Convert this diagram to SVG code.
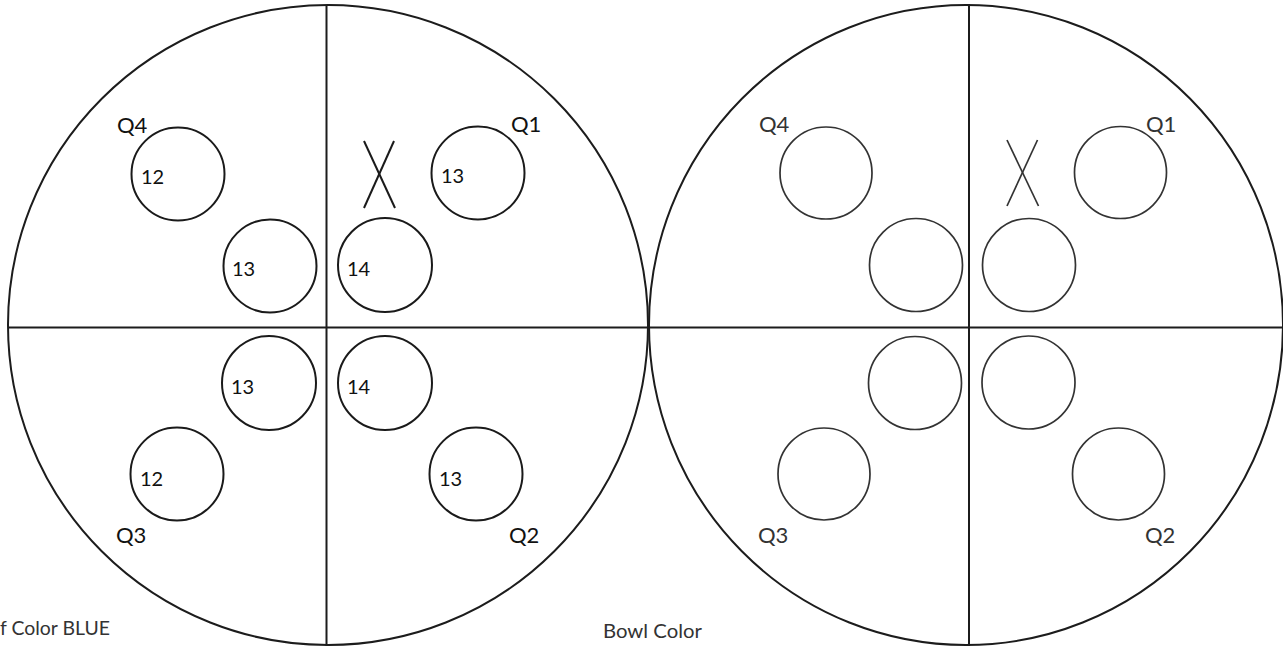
<svg xmlns="http://www.w3.org/2000/svg" width="1283" height="646" viewBox="0 0 1283 646">
<style>
.big{fill:none;stroke:#1c1c1c;stroke-width:2}
.axis{stroke:#1c1c1c;stroke-width:2;fill:none}
.hole{fill:none;stroke:#1a1a1a;stroke-width:2}
.hole2{fill:none;stroke:#333;stroke-width:1.7}
.num{font-family:Lato,"Open Sans","Liberation Sans",sans-serif;font-size:20px;fill:#111}
.q{font-family:Lato,"Open Sans","Liberation Sans",sans-serif;font-size:22px;fill:#111}
.q2{font-family:Lato,"Open Sans","Liberation Sans",sans-serif;font-size:22px;fill:#333}
.cap{font-family:Lato,"Open Sans","Liberation Sans",sans-serif;font-size:19px;fill:#333}
.x{stroke:#1a1a1a;stroke-width:2}
.x2{stroke:#333;stroke-width:1.7}
</style>
<rect width="1283" height="646" fill="#fff"/>
<g id="left-bowl">
<circle class="big" cx="328" cy="325" r="320"/>
<line class="axis" x1="326.5" y1="5" x2="326.5" y2="646"/>
</g>
<g id="right-bowl">
<ellipse class="big" cx="966" cy="325" rx="317" ry="320"/>
<line class="axis" x1="969" y1="4" x2="969" y2="646"/>
</g>
<g id="connectors">
<line class="axis" x1="8" y1="327.5" x2="1283" y2="327.5"/>
</g>
<g id="left-q4-outer"><circle class="hole" cx="178" cy="174" r="46.5"/><text class="num" x="141" y="184">12</text></g>
<g id="left-q4-inner"><circle class="hole" cx="270" cy="266" r="46.5"/><text class="num" x="232" y="276">13</text></g>
<g id="left-q1-inner"><circle class="hole" cx="385" cy="265" r="47"/><text class="num" x="347" y="276">14</text></g>
<g id="left-q1-outer"><circle class="hole" cx="478" cy="173" r="46.5"/><text class="num" x="441" y="183">13</text></g>
<g id="left-q3-inner"><circle class="hole" cx="269" cy="383" r="47"/><text class="num" x="231" y="394">13</text></g>
<g id="left-q2-inner"><circle class="hole" cx="385" cy="383" r="47"/><text class="num" x="347" y="394">14</text></g>
<g id="left-q3-outer"><circle class="hole" cx="177" cy="474" r="46.5"/><text class="num" x="140" y="486">12</text></g>
<g id="left-q2-outer"><circle class="hole" cx="476" cy="474" r="46.5"/><text class="num" x="439" y="486">13</text></g>
<g id="left-x"><line class="x" x1="364" y1="141" x2="395" y2="208"/><line class="x" x1="394" y1="141" x2="364" y2="208"/></g>
<g id="left-labels">
<text class="q" x="117" y="133">Q4</text>
<text class="q" x="511" y="132">Q1</text>
<text class="q" x="116" y="543">Q3</text>
<text class="q" x="509" y="543">Q2</text>
</g>
<g id="right-q4-outer"><circle class="hole2" cx="826" cy="173" r="46"/></g>
<g id="right-q4-inner"><circle class="hole2" cx="916" cy="265" r="46.5"/></g>
<g id="right-q1-inner"><circle class="hole2" cx="1029" cy="265" r="46.5"/></g>
<g id="right-q1-outer"><circle class="hole2" cx="1120.5" cy="172.5" r="46"/></g>
<g id="right-q3-inner"><circle class="hole2" cx="915" cy="383" r="46.5"/></g>
<g id="right-q2-inner"><circle class="hole2" cx="1028.5" cy="382.5" r="46.5"/></g>
<g id="right-q3-outer"><circle class="hole2" cx="824" cy="474" r="46"/></g>
<g id="right-q2-outer"><circle class="hole2" cx="1118.5" cy="474" r="46"/></g>
<g id="right-x"><line class="x2" x1="1007" y1="140" x2="1038.5" y2="206"/><line class="x2" x1="1037.5" y1="140" x2="1007" y2="206"/></g>
<g id="right-labels">
<text class="q2" x="759" y="132">Q4</text>
<text class="q2" x="1146" y="132">Q1</text>
<text class="q2" x="758" y="543">Q3</text>
<text class="q2" x="1145" y="543">Q2</text>
</g>
<g id="captions">
<text class="cap" x="0" y="635" textLength="110" lengthAdjust="spacingAndGlyphs">f Color BLUE</text>
<text class="cap" x="603" y="638" textLength="99" lengthAdjust="spacingAndGlyphs">Bowl Color</text>
</g>
</svg>
